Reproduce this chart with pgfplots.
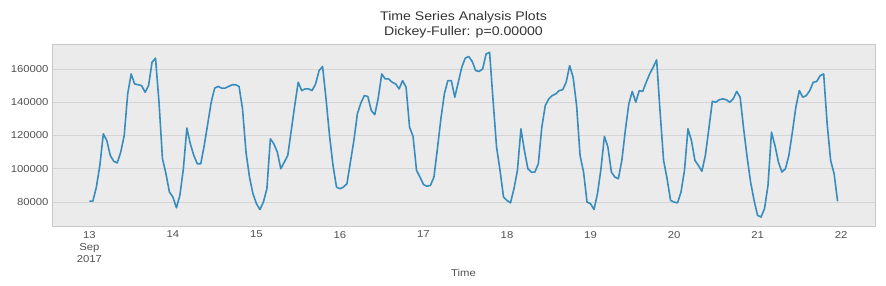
\documentclass[border=0pt]{standalone}
\usepackage{pgfplots}
\pgfplotsset{compat=1.18}
\usepackage{fontspec}
\setmainfont{Liberation Sans}[FakeStretch=1.13]
\definecolor{bg}{HTML}{EBEBEB}
\definecolor{gridc}{HTML}{D4D4D4}
\definecolor{framec}{HTML}{C8C8C8}
\definecolor{lineblue}{HTML}{388DBF}
\definecolor{tickc}{HTML}{505050}
\begin{document}
\begin{tikzpicture}
\path[use as bounding box] (-52pt,-59pt) rectangle (834pt,226pt);
\begin{axis}[
  at={(0pt,0pt)}, anchor=south west,
  scale only axis, width=823pt, height=182pt,
  xmin=-10.75, xmax=225.75, ymin=65600, ymax=175000,
  axis background/.style={fill=bg},
  axis line style={framec, line width=0.8pt},
  major tick length=0pt,
  xtick={0,24,48,72,96,120,144,168,192,216},
  xticklabels={{13\\Sep\\2017},14,15,16,17,18,19,20,21,22},
  xticklabel style={align=center, font=\fontsize{10}{12}\selectfont, text=tickc, yshift=-1.5pt},
  ytick={80000,100000,120000,140000,160000},
  yticklabel style={font=\fontsize{10}{12}\selectfont, text=tickc},
  /pgf/number format/fixed,
  /pgf/number format/assume math mode=true,
  /pgf/number format/1000 sep={},
  scaled y ticks=false,
  ymajorgrids, grid style={gridc, line width=0.7pt},
  xlabel={Time}, xlabel style={font=\fontsize{10}{12}\selectfont, text=tickc, yshift=0pt},
  title={Time Series Analysis Plots\\Dickey-Fuller: p=0.00000},
  title style={align=center, font=\fontsize{12.5}{15}\selectfont, text=black!80, yshift=-4pt},
]
\addplot[lineblue, line width=1.6pt, line join=round] table[header=false, x expr=\coordindex, y index=0] {
80600
80600
89000
102000
121000
117000
108000
104500
103500
110000
120000
145000
157000
151000
150500
150000
146000
150000
164000
166500
140000
106000
97000
86000
83000
76500
84000
100000
124500
115000
108000
103000
103000
114000
127000
140000
148500
149500
148500
148500
149500
150500
150500
149500
136000
110000
95000
85000
79000
75500
80000
88000
118000
115000
110000
100000
104000
108000
123000
138000
152000
147000
148000
148000
147000
151000
159000
161500
142000
120000
102000
89000
88000
89000
91000
104000
117000
133000
139500
144000
143500
135000
132500
142500
157000
154000
154000
152000
151000
148000
153000
149000
125000
119500
99000
95000
90500
89500
90000
95000
112000
130000
145000
153000
153000
143000
152000
161000
166500
167500
164500
159000
158500
160000
169000
170000
141000
113000
99000
83000
81000
79500
88000
99000
124000
111000
100000
98000
98000
103000
125000
138000
142000
144000
145000
147000
147500
152000
162000
155000
138000
108000
98000
80000
79000
75500
85000
100000
119500
113000
98000
95000
94000
105000
123000
139000
146500
140000
147000
146500
152000
157000
161000
165500
134000
105000
94000
81000
80000
79500
86000
99000
124000
117000
105000
102000
98500
108000
124000
140500
140000
141500
142000
141500
140000
142000
146500
143000
124000
107000
92000
81000
72000
71000
76000
90000
122000
114000
104000
98000
100000
108000
122000
137000
147000
143000
144000
147000
152000
152500
156000
157000
127000
105000
97000
80500
};
\end{axis}
\end{tikzpicture}
\end{document}
